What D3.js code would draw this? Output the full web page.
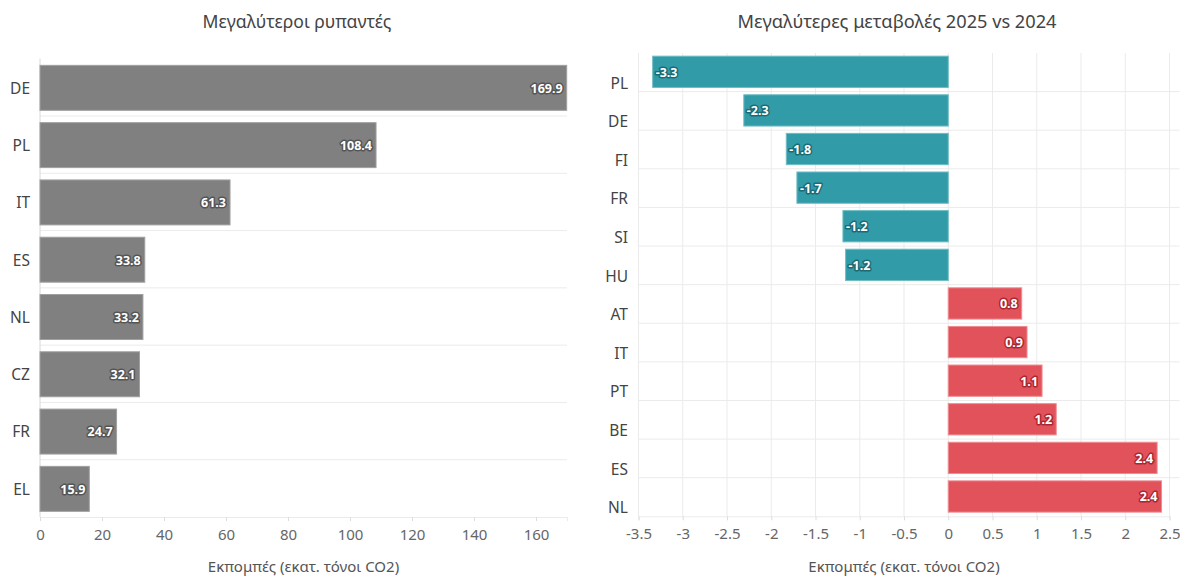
<!DOCTYPE html>
<html>
<head>
<meta charset="utf-8">
<script src="https://cdn.jsdelivr.net/npm/d3@7"></script>
<style>
  html, body { margin: 0; padding: 0; background: #fff; }
  svg text { font-family: "Noto Sans", "Open Sans", sans-serif; }
</style>
</head>
<body>
<svg id="chart" width="1180" height="576"></svg>
<script>
// ---- data ----
const leftTitle = "Μεγαλύτεροι ρυπαντές";
const rightTitle = "Μεγαλύτερες μεταβολές 2025 vs 2024";
const axisTitle = "Εκπομπές (εκατ. τόνοι CO2)";

const polluterCountries = ["DE", "PL", "IT", "ES", "NL", "CZ", "FR", "EL"];
const polluterValues = [169.9, 108.4, 61.3, 33.8, 33.2, 32.1, 24.7, 15.9];
const polluterTicks = [0, 20, 40, 60, 80, 100, 120, 140, 160];

const changeCountries = ["PL", "DE", "FI", "FR", "SI", "HU", "AT", "IT", "PT", "BE", "ES", "NL"];
const changeValues = [-3.34, -2.31, -1.83, -1.71, -1.19, -1.16, 0.83, 0.89, 1.06, 1.22, 2.36, 2.41];
const changeTicks = [-3.5, -3, -2.5, -2, -1.5, -1, -0.5, 0, 0.5, 1, 1.5, 2, 2.5];

// ---- styles ----
const GRID = "#ebebeb";
const GRAY = "#808080", GRAY_EDGE = "#a0a0a0", GRAY_HALO = "#555555";
const TEAL = "#329ba8", TEAL_EDGE = "#6fbcc4", TEAL_HALO = "#1c6a73";
const RED = "#e2525b", RED_EDGE = "#ee8c92", RED_HALO = "#aa2730";

const fmt1 = v => d3.format(".1f")(v).replace("\u2212", "-");

const svg = d3.select("#chart");

function valueLabel(g, x, y, text, anchor, halo) {
  g.append("text")
    .attr("x", x).attr("y", y)
    .attr("dy", "0.35em")
    .attr("text-anchor", anchor)
    .attr("font-size", 12.5)
    .attr("font-weight", 700)
    .attr("fill", "#fff")
    .attr("stroke", halo)
    .attr("stroke-width", 3)
    .attr("stroke-linejoin", "round")
    .attr("paint-order", "stroke")
    .text(text);
}

// ================= LEFT CHART =================
{
  const x0 = 40, x1 = 567, y0 = 58.7, y1 = 517;
  const x = d3.scaleLinear().domain([0, 170]).range([x0, x1]);
  const y = d3.scaleBand().domain(polluterCountries).range([y0, y1])
    .paddingInner(0.215).paddingOuter(0.1075);
  const g = svg.append("g");

  const step = y.step();
  polluterCountries.forEach((c, i) => {
    if (i === 0) return;
    const yy = y0 + step * i;
    g.append("line").attr("x1", x0).attr("x2", x1).attr("y1", yy).attr("y2", yy)
      .attr("stroke", GRID).attr("stroke-width", 1);
  });

  const ax = g.append("g").attr("transform", `translate(0,${y1})`)
    .call(d3.axisBottom(x).tickValues(polluterTicks).tickSize(4).tickPadding(8).tickFormat(d3.format("d")));
  ax.select(".domain").attr("stroke", GRID);
  ax.selectAll(".tick line").attr("stroke", "#dddddd");
  ax.selectAll(".tick text").attr("font-size", 15).attr("fill", "#666");

  g.append("line").attr("x1", x0).attr("x2", x0).attr("y1", y0).attr("y2", y1)
    .attr("stroke", "#d8d8d8").attr("stroke-width", 1);

  polluterCountries.forEach((c, i) => {
    const v = polluterValues[i];
    g.append("rect")
      .attr("x", x(0)).attr("y", y(c) + 0.5)
      .attr("width", x(v) - x(0)).attr("height", y.bandwidth())
      .attr("fill", GRAY).attr("stroke", GRAY_EDGE).attr("stroke-width", 1);
    valueLabel(g, x(v) - 4, y(c) + y.bandwidth() / 2 + 1, fmt1(v), "end", GRAY_HALO);
    g.append("text").attr("x", 30).attr("y", y(c) + y.bandwidth() / 2 + 1)
      .attr("dy", "0.35em").attr("text-anchor", "end")
      .attr("font-size", 15.5).attr("fill", "#444").text(c);
  });

  svg.append("text").attr("x", 297).attr("y", 28)
    .attr("text-anchor", "middle").attr("font-size", 17.6).attr("fill", "#444").text(leftTitle);
  svg.append("text").attr("x", (x0 + x1) / 2).attr("y", 572)
    .attr("text-anchor", "middle").attr("font-size", 15).attr("fill", "#555").text(axisTitle);
}

// ================= RIGHT CHART =================
{
  const x0 = 638.5, x1 = 1169.5, y0 = 53, y1 = 516.3;
  const x = d3.scaleLinear().domain([-3.5, 2.5]).range([x0, x1]);
  const y = d3.scaleBand().domain(changeCountries).range([y0, y1])
    .paddingInner(0.19).paddingOuter(0.095);
  const g = svg.append("g");
  const step = y.step();

  changeTicks.forEach(t => {
    g.append("line").attr("x1", x(t)).attr("x2", x(t)).attr("y1", y0).attr("y2", y1)
      .attr("stroke", GRID).attr("stroke-width", 1);
  });
  changeCountries.forEach((c, i) => {
    if (i === 0) return;
    const yy = y0 + step * i;
    g.append("line").attr("x1", x0).attr("x2", x1 + 10).attr("y1", yy).attr("y2", yy)
      .attr("stroke", GRID).attr("stroke-width", 1);
  });

  const ax = g.append("g").attr("transform", `translate(0,${y1})`)
    .call(d3.axisBottom(x).tickValues(changeTicks).tickSize(4).tickPadding(8).tickFormat(d => String(d)));
  ax.select(".domain").attr("stroke", GRID);
  ax.selectAll(".tick line").attr("stroke", "#dddddd");
  ax.selectAll(".tick text").attr("font-size", 15).attr("fill", "#666");

  changeCountries.forEach((c, i) => {
    const v = changeValues[i];
    const neg = v < 0;
    const bx = Math.min(x(0), x(v)), bw = Math.abs(x(v) - x(0));
    g.append("rect")
      .attr("x", bx).attr("y", y(c) - 0.5)
      .attr("width", bw).attr("height", y.bandwidth())
      .attr("fill", neg ? TEAL : RED).attr("stroke", neg ? TEAL_EDGE : RED_EDGE).attr("stroke-width", 1);
    const lbl = fmt1(v);
    if (neg) valueLabel(g, x(v) + 3, y(c) + y.bandwidth() / 2, lbl, "start", TEAL_HALO);
    else valueLabel(g, x(v) - 4, y(c) + y.bandwidth() / 2, lbl, "end", RED_HALO);
    g.append("text").attr("x", 628).attr("y", y0 + step * (i + 1) - 3)
      .attr("text-anchor", "end")
      .attr("font-size", 15.5).attr("fill", "#444").text(c);
  });

  svg.append("text").attr("x", 897).attr("y", 28)
    .attr("text-anchor", "middle").attr("font-size", 18.2).attr("fill", "#444").text(rightTitle);
  svg.append("text").attr("x", (x0 + x1) / 2).attr("y", 572)
    .attr("text-anchor", "middle").attr("font-size", 15).attr("fill", "#555").text(axisTitle);
}
</script>
</body>
</html>
